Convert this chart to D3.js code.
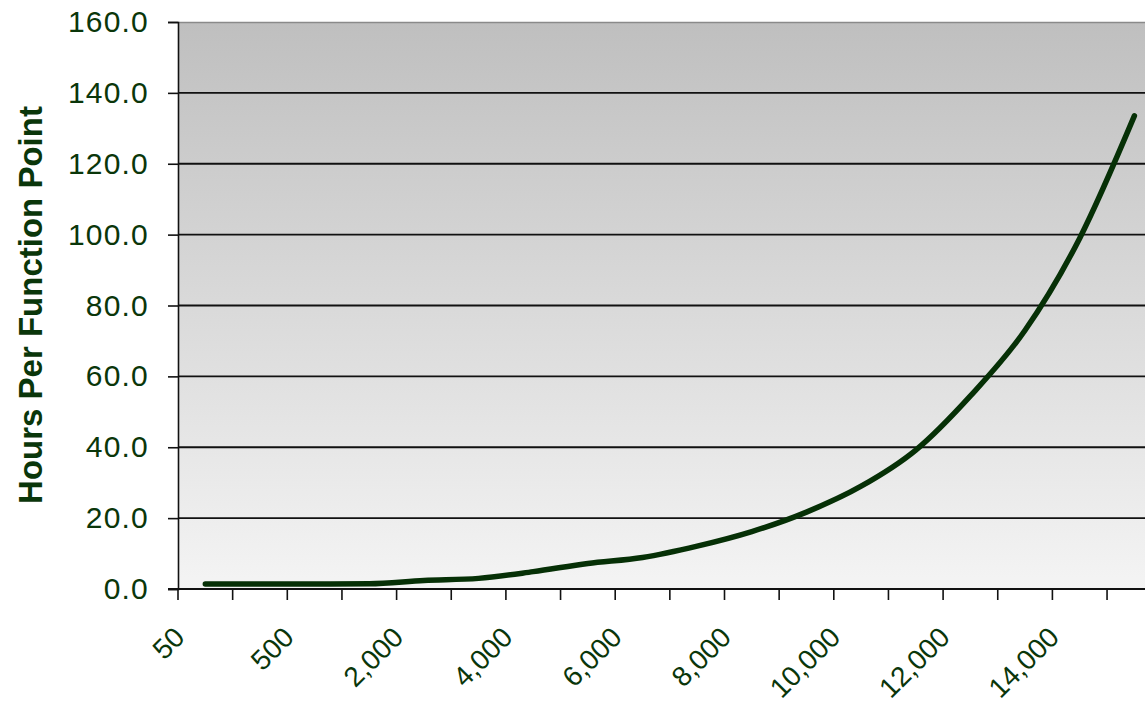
<!DOCTYPE html>
<html>
<head>
<meta charset="utf-8">
<script src="https://cdn.jsdelivr.net/npm/d3@7"></script>
<style>
  html, body { margin: 0; padding: 0; background: #ffffff; }
  svg { display: block; }
  text { font-family: "Liberation Sans", Arial, sans-serif; }
</style>
</head>
<body>
<svg id="chart" width="1145" height="707"></svg>
<script>
// Project size in function points (category axis)
const sizes = [50, 100, 500, 1000, 2000, 3000, 4000, 5000, 6000, 7000,
               8000, 9000, 10000, 11000, 12000, 13000, 14000, 15000];
// Effort in hours per function point for each size
const hoursPerFP = [1.4, 1.4, 1.4, 1.5, 2.4, 3.0, 4.9, 7.2, 8.9, 12.1,
                    16.2, 21.7, 29.0, 39.2, 54.5, 73.0, 99.0, 133.5];
// Value-axis ticks
const yTicks = [0, 20, 40, 60, 80, 100, 120, 140, 160];
// Category labels shown (every other size)
const shownSizes = [50, 500, 2000, 4000, 6000, 8000, 10000, 12000, 14000];

const textColor = "#0a360a";
const lineColor = "#063006";

const svg = d3.select("#chart");
const plot = { left: 178, top: 22, bottom: 589 };
const band = 54.65;
plot.right = plot.left + band * sizes.length;

const x = d3.scaleBand()
  .domain(sizes)
  .range([plot.left, plot.right])
  .paddingInner(0)
  .paddingOuter(0);

const y = d3.scaleLinear()
  .domain([0, 160])
  .range([plot.bottom, plot.top]);

// Plot-area gradient (dark grey at top fading to near white)
const defs = svg.append("defs");
const grad = defs.append("linearGradient")
  .attr("id", "plotFill")
  .attr("x1", 0).attr("y1", 0).attr("x2", 0).attr("y2", 1);
grad.append("stop").attr("offset", "0%").attr("stop-color", "#bfbfbf");
grad.append("stop").attr("offset", "100%").attr("stop-color", "#f4f4f4");

svg.append("rect")
  .attr("x", plot.left)
  .attr("y", plot.top)
  .attr("width", plot.right - plot.left)
  .attr("height", plot.bottom - plot.top)
  .attr("fill", "url(#plotFill)");

// Top border of the plot area
svg.append("line")
  .attr("x1", plot.left).attr("x2", plot.right)
  .attr("y1", plot.top + 0.5).attr("y2", plot.top + 0.5)
  .attr("stroke", "#8a8a8a").attr("stroke-width", 1.5);

// Horizontal gridlines
svg.append("g")
  .selectAll("line")
  .data(yTicks.filter(d => d > 0 && d < 160))
  .join("line")
  .attr("x1", plot.left).attr("x2", plot.right)
  .attr("y1", d => y(d)).attr("y2", d => y(d))
  .attr("stroke", "#111111").attr("stroke-width", 1.8);

// Value axis
const yAxis = d3.axisLeft(y)
  .tickValues(yTicks)
  .tickSize(10)
  .tickPadding(19)
  .tickFormat(d3.format(".1f"));

const gy = svg.append("g")
  .attr("transform", `translate(${plot.left},0)`)
  .call(yAxis);
gy.select(".domain").attr("stroke", "#111111").attr("stroke-width", 1.6);
gy.selectAll(".tick line").attr("stroke", "#111111").attr("stroke-width", 1.6);
gy.selectAll(".tick text")
  .attr("fill", textColor)
  .style("font-size", "30px")
  .style("letter-spacing", "1.2px");

// Category axis line and tick marks at band edges
svg.append("line")
  .attr("x1", plot.left - 10).attr("x2", plot.right)
  .attr("y1", plot.bottom).attr("y2", plot.bottom)
  .attr("stroke", "#111111").attr("stroke-width", 2);

svg.append("g")
  .selectAll("line")
  .data(sizes)
  .join("line")
  .attr("x1", d => x(d)).attr("x2", d => x(d))
  .attr("y1", plot.bottom).attr("y2", plot.bottom + 11)
  .attr("stroke", "#111111").attr("stroke-width", 1.6);

// Rotated category labels
svg.append("g")
  .selectAll("text")
  .data(shownSizes)
  .join("text")
  .attr("transform", d => `translate(${x(d) + x.bandwidth() / 2 - 19},${plot.bottom + 50}) rotate(-45)`)
  .attr("text-anchor", "end")
  .attr("fill", textColor)
  .style("font-size", "28px")
  .text(d => d3.format(",")(d));

// Axis title
svg.append("text")
  .attr("transform", `translate(42,305) rotate(-90)`)
  .attr("text-anchor", "middle")
  .attr("fill", textColor)
  .style("font-size", "33px")
  .style("font-weight", "bold")
  .text("Hours Per Function Point");

// Effort curve
const line = d3.line()
  .x(d => x(d.size) + x.bandwidth() / 2)
  .y(d => y(d.hours))
  .curve(d3.curveMonotoneX);

const series = sizes.map((s, i) => ({ size: s, hours: hoursPerFP[i] }));

svg.append("path")
  .datum(series)
  .attr("d", line)
  .attr("fill", "none")
  .attr("stroke", lineColor)
  .attr("stroke-width", 5.5)
  .attr("stroke-linecap", "round")
  .attr("stroke-linejoin", "round");
</script>
</body>
</html>
